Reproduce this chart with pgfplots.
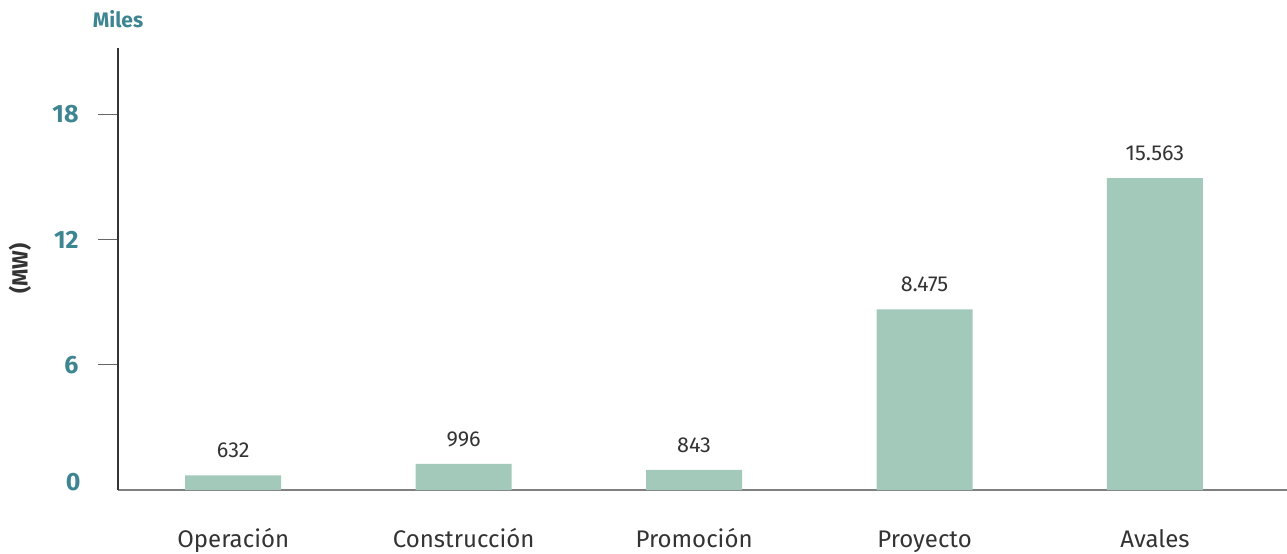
\documentclass[border=0pt]{standalone}
\usepackage{fontspec}
\setmainfont{Fira Sans}
\usepackage{pgfplots}
\pgfplotsset{compat=1.18}
\definecolor{barcol}{HTML}{A3C9BB}
\definecolor{tealtxt}{HTML}{3E8592}
\definecolor{txt}{HTML}{333333}

% bar heights as drawn (thousands of MW), labels as printed
\pgfplotstableread{
x  y      lab
0  0.70   632
1  1.25   996
2  0.96   843
3  8.66   8.475
4  14.94  15.563
}\potdata

\begin{document}
\begin{tikzpicture}
\useasboundingbox (-59pt,-31.5pt) rectangle (584.5pt,245pt);
\begin{axis}[
  scale only axis,
  width=584.5pt, height=221.2pt,
  xmin=-0.5, xmax=4.573,
  ymin=0, ymax=21.2,
  axis x line*=bottom, axis y line*=left,
  x axis line style={-, draw=gray, line width=1pt},
  y axis line style={-, draw=txt, line width=0.6pt},
  xtick={0,1,2,3,4},
  xticklabels={Operación, Construcción, Promoción, Proyecto, Avales},
  xtick style={draw=none},
  xticklabel style={anchor=base, yshift=-18.5pt, font=\fontsize{12}{14}\selectfont, text=txt},
  ytick={6,12,18},
  extra y ticks={0},
  extra y tick style={major tick length=0pt, yticklabel style={xshift=-9pt, yshift=4pt}},
  tick align=outside,
  major tick length=10pt,
  ytick style={draw=gray!80!black, line width=0.6pt},
  yticklabel style={anchor=east, inner sep=0pt, xshift=-9.5pt,
    font=\fontsize{12.5}{14}\selectfont\bfseries, text=tealtxt},
  /pgf/number format/assume math mode=true,
  point meta=explicit symbolic,
  nodes near coords,
  nodes near coords style={anchor=center, yshift=12.5pt,
    font=\fontsize{10.8}{12}\selectfont, text=txt},
  clip=false,
]
\addplot[ybar, bar width=48pt, fill=barcol, draw=none]
  table[x=x, y=y, meta=lab] {\potdata};
\node[font=\fontsize{10.5}{12}\selectfont\bfseries, text=tealtxt]
  at ([yshift=14pt]rel axis cs:0,1) {Miles};
\node[font=\fontsize{11}{13}\selectfont\bfseries, text=txt, rotate=90]
  at ([xshift=-49pt]rel axis cs:0,0.5) {(MW)};
\end{axis}
\end{tikzpicture}
\end{document}
